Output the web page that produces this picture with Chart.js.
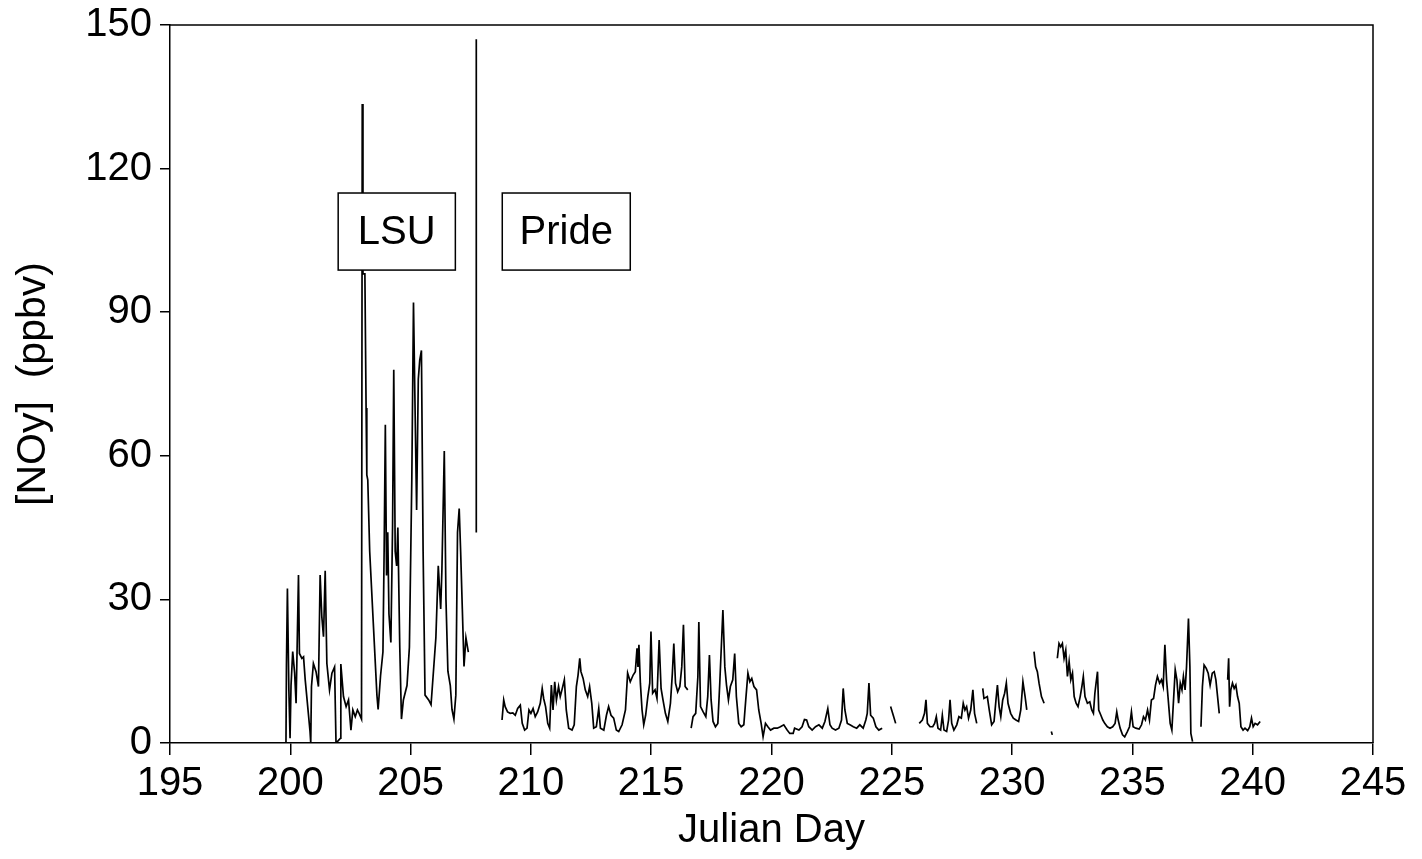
<!DOCTYPE html>
<html>
<head>
<meta charset="utf-8">
<script src="https://cdn.jsdelivr.net/npm/chart.js@4.4.1/dist/chart.umd.min.js"></script>
<style>
  html, body { margin: 0; padding: 0; background: #fff; }
  #wrap { width: 1422px; height: 859px; }
</style>
</head>
<body>
<div id="wrap"><canvas id="noyChart"></canvas></div>
<script>
// axis ticks
const dayTicks = [195, 200, 205, 210, 215, 220, 225, 230, 235, 240, 245];
const noyTicks = [0, 30, 60, 90, 120, 150];

// LSU record (Julian day, NOy ppbv)
const lsuDay = [199.82, 199.84, 199.88, 199.94, 199.99, 200.03, 200.10, 200.18, 200.24, 200.34,
  200.38, 200.48, 200.55, 200.62, 200.75, 200.82, 200.85, 200.88, 200.96, 201.07,
  201.17, 201.24, 201.31, 201.38, 201.45, 201.52, 201.63, 201.73, 201.84, 201.90,
  201.92, 202.09, 202.10, 202.21, 202.32, 202.42, 202.52, 202.60, 202.70, 202.79,
  202.86, 202.96, 202.99, 203.02, 203.10, 203.15, 203.18, 203.22, 203.30, 203.45,
  203.60, 203.65, 203.75, 203.85, 203.90, 203.95, 204.00, 204.05, 204.10, 204.18,
  204.25, 204.30, 204.36, 204.42, 204.47, 204.55, 204.62, 204.70, 204.85, 204.95,
  205.05, 205.12, 205.17, 205.25, 205.32, 205.38, 205.45, 205.52, 205.60, 205.75,
  205.85, 205.95, 206.05, 206.15, 206.25, 206.30, 206.40, 206.47, 206.55, 206.65,
  206.72, 206.80, 206.88, 206.95, 207.02, 207.08, 207.15, 207.22, 207.30, 207.40];
const lsuNoy = [0, 16.3, 32.3, 11.1, 1, 12, 19.1, 14.6, 8.3, 35.1,
  18.7, 17.7, 18, 13.2, 6.2, 2.4, 0, 11.8, 16.6, 14.9,
  11.8, 35.1, 26.4, 22.2, 36, 16.6, 11.1, 14.6, 15.9, 0,
  0, 1, 16.5, 9.7, 7.6, 9.0, 2.7, 6.9, 5.5, 6.9,
  6.2, 5, 133.5, 98, 98, 70, 56, 55, 40, 25,
  10, 7, 14, 19, 40, 66.5, 35, 44, 27, 21,
  45, 78, 40, 37, 45, 20, 5, 9, 12, 20,
  55, 92, 75, 48.7, 76, 80, 82, 40, 10, 9,
  8, 15, 22, 37, 28, 36, 61, 30, 15, 12,
  7, 5, 10, 44, 49, 40, 28, 16, 22, 19];

// Pride record (null = no data)
const prideDay = [208.80, 208.87, 208.93, 209.03, 209.14, 209.25, 209.35, 209.45, 209.56, 209.64,
  209.74, 209.84, 209.92, 210.00, 210.09, 210.18, 210.28, 210.39, 210.47, 210.53,
  210.61, 210.70, 210.78, 210.85, 210.92, 210.99, 211.06, 211.15, 211.22, 211.29,
  211.39, 211.47, 211.57, 211.71, 211.80, 211.89, 211.96, 212.03, 212.08, 212.17,
  212.26, 212.36, 212.44, 212.53, 212.61, 212.72, 212.82, 212.89, 213.03, 213.14,
  213.23, 213.33, 213.44, 213.55, 213.65, 213.79, 213.93, 214.02, 214.13, 214.25,
  214.34, 214.41, 214.45, 214.49, 214.55, 214.62, 214.69, 214.77, 214.86, 214.94,
  214.99, 215.06, 215.16, 215.24, 215.33, 215.41, 215.49, 215.59, 215.69, 215.80,
  215.88, 215.94, 216.01, 216.10, 216.19, 216.27, 216.34, 216.41, 216.52, 216.59,
  216.66, 216.74, 216.85, 216.94, 216.98, 217.05, 217.16, 217.27, 217.35, 217.42,
  217.49, 217.57, 217.67, 217.77, 217.85, 217.98, 218.06, 218.13, 218.21, 218.29,
  218.39, 218.47, 218.54, 218.64, 218.74, 218.85, 218.93, 219.02, 219.10, 219.18,
  219.27, 219.38, 219.47, 219.57, 219.65, 219.75, 219.85, 219.96, 220.10, 220.24,
  220.37, 220.51, 220.65, 220.76, 220.90, 220.96, 221.14, 221.27, 221.37, 221.46,
  221.55, 221.69, 221.83, 221.97, 222.11, 222.22, 222.34, 222.43, 222.52, 222.66,
  222.80, 222.91, 222.98, 223.05, 223.15, 223.26, 223.40, 223.54, 223.67, 223.81,
  223.92, 223.98, 224.05, 224.12, 224.23, 224.34, 224.46, 224.60, 224.80, 224.95,
  225.06, 225.16, 225.60, 226.14, 226.27, 226.36, 226.42, 226.48, 226.59, 226.70,
  226.78, 226.85, 226.92, 227.03, 227.10, 227.17, 227.28, 227.36, 227.42, 227.49,
  227.58, 227.70, 227.79, 227.89, 227.97, 228.04, 228.11, 228.19, 228.28, 228.37,
  228.44, 228.53, 228.65, 228.78, 228.83, 228.97, 229.05, 229.15, 229.25, 229.33,
  229.39, 229.46, 229.53, 229.61, 229.69, 229.76, 229.83, 229.94, 230.05, 230.16,
  230.27, 230.36, 230.45, 230.54, 230.61, 230.80, 230.91, 230.98, 231.05, 231.12,
  231.22, 231.33, 231.50, 231.63, 231.67, 231.80, 231.88, 231.95, 232.02, 232.09,
  232.16, 232.23, 232.30, 232.37, 232.44, 232.51, 232.58, 232.66, 232.74, 232.83,
  232.90, 232.96, 233.03, 233.13, 233.23, 233.31, 233.38, 233.44, 233.49, 233.55,
  233.60, 233.69, 233.77, 233.85, 233.96, 234.07, 234.18, 234.28, 234.35, 234.41,
  234.49, 234.59, 234.68, 234.79, 234.88, 234.96, 235.03, 235.14, 235.28, 235.38,
  235.46, 235.54, 235.63, 235.71, 235.79, 235.88, 235.96, 236.04, 236.13, 236.21,
  236.28, 236.35, 236.42, 236.49, 236.57, 236.64, 236.71, 236.78, 236.85, 236.92,
  236.99, 237.06, 237.12, 237.19, 237.25, 237.33, 237.39, 237.43, 237.50, 237.70,
  237.85, 237.91, 237.98, 238.07, 238.15, 238.23, 238.32, 238.40, 238.47, 238.54,
  238.61, 238.80, 238.96, 239.00, 239.04, 239.09, 239.16, 239.23, 239.30, 239.37,
  239.44, 239.51, 239.60, 239.68, 239.79, 239.88, 239.95, 240.02, 240.10, 240.20,
  240.31];
const prideNoy = [4.8, 9.0, 7.6, 6.5, 6.2, 6.3, 5.8, 7.2, 7.9, 4.1,
  2.7, 3.1, 6.9, 6.2, 7.2, 5.5, 6.5, 8.3, 11.4, 9.3,
  7.6, 4.1, 3.1, 12.1, 6.9, 12.8, 9.0, 11.8, 9.7, 11.1,
  13.2, 6.9, 3.1, 2.7, 3.8, 11.8, 14.2, 17.7, 14.9, 13.5,
  11.1, 9.7, 11.8, 8.3, 3.1, 3.4, 7.2, 3.1, 2.7, 5.8,
  7.6, 5.8, 5.2, 2.7, 2.4, 3.8, 6.9, 14.6, 12.8, 14.2,
  14.9, 19.8, 15.9, 20.5, 12.5, 6.9, 3.8, 5.8, 9.7, 12.5,
  23.3, 10.4, 11.1, 9.3, 21.5, 11.4, 9.0, 6.2, 4.5, 8.3,
  14.6, 20.8, 12.5, 10.7, 11.8, 15.9, 24.7, 11.8, 11.1, null,
  3.1, 5.5, 6.2, 13.9, 25.3, 7.6, 6.5, 5.5, 9.7, 18.4,
  9.0, 4.5, 3.4, 4.1, 12.5, 27.8, 15.9, 12.1, 9.0, 11.8,
  13.2, 18.7, 9.7, 4.1, 3.4, 3.8, 9.0, 14.6, 12.8, 13.5,
  11.8, 11.1, 6.9, 4.1, 1.3, 4.1, 3.4, 2.7, 3.1, 3.1,
  3.4, 3.8, 2.7, 2.0, 2.0, 3.1, 2.7, 3.4, 4.9, 4.8,
  3.4, 2.7, 3.4, 3.8, 3.1, 4.5, 7.2, 3.8, 3.1, 2.7,
  3.1, 4.8, 11.4, 6.9, 4.1, 3.8, 3.4, 3.1, 3.8, 3.1,
  4.8, 6.2, 12.5, 5.8, 5.2, 3.4, 2.7, 3.1, null, 7.6,
  5.8, 4.1, null, 4.1, 4.8, 6.2, 9.0, 4.1, 3.4, 3.4,
  4.1, 5.5, 3.1, 2.7, 5.8, 2.7, 2.4, 4.8, 9.0, 4.1,
  2.7, 3.8, 5.5, 5.2, 8.3, 6.9, 7.6, 5.2, 6.9, 11.1,
  6.2, 4.1, null, 11.4, 9.3, 9.7, 6.9, 3.8, 4.5, 9.0,
  12.1, 7.6, 5.5, 9.0, 10.4, 12.5, 8.3, 6.2, 5.2, 4.8,
  4.5, 6.9, 12.8, 9.7, 6.9, null, 19.1, 15.9, 14.9, 12.5,
  9.7, 8.3, null, 2.4, 1.7, null, 17.7, 20.8, 20.1, 20.8,
  17.7, 19.4, 13.9, 17.0, 13.2, 14.6, 9.7, 8.3, 7.6, 9.7,
  11.8, 13.9, 9.7, 8.3, 8.6, 6.9, 6.2, 10.4, 12.5, 14.9,
  6.9, 5.8, 4.8, 4.1, 3.4, 3.1, 3.4, 4.1, 6.5, 4.8,
  3.1, 1.7, 1.3, 2.4, 3.4, 6.5, 3.4, 3.1, 2.9, 3.8,
  5.5, 4.8, 6.9, 4.8, 9.0, 9.3, 12.1, 13.9, 12.5, 13.2,
  11.8, 20.5, 13.2, 9.0, 4.1, 2.7, 9.0, 15.3, 13.2, 8.3,
  12.5, 11.1, 13.9, 11.1, 15.9, 26.0, 15.9, 2.0, 0.3, null,
  3.4, 11.8, 16.3, 15.6, 14.6, 12.1, 14.6, 14.9, 13.2, 9.7,
  6.2, null, 13.2, 17.7, 7.6, 11.1, 12.5, 11.4, 12.1, 9.7,
  8.3, 3.4, 2.7, 3.1, 2.6, 3.4, 5.2, 3.4, 4.1, 3.8,
  4.5];

// separator line between the two records
const dividerDay = [207.73, 207.73];
const dividerNoy = [44, 147];

const siteLabels = ['LSU', 'Pride'];

function toPoints(days, vals) {
  return days.map((d, i) => ({ x: d, y: vals[i] }));
}

const FONT = '"Liberation Sans", Arial, Helvetica, sans-serif';

// boxed site labels, placed in data units
const labelBoxes = {
  id: 'labelBoxes',
  afterDatasetsDraw(chart) {
    const { ctx, scales: { x, y } } = chart;
    const boxes = [
      { text: siteLabels[0], x0: 201.99, x1: 206.86, y0: 98.8, y1: 114.9 },
      { text: siteLabels[1], x0: 208.81, x1: 214.13, y0: 98.8, y1: 114.9 }
    ];
    ctx.save();
    boxes.forEach(b => {
      const l = x.getPixelForValue(b.x0), r = x.getPixelForValue(b.x1);
      const t = y.getPixelForValue(b.y1), bt = y.getPixelForValue(b.y0);
      ctx.fillStyle = '#fff';
      ctx.fillRect(l, t, r - l, bt - t);
      ctx.strokeStyle = '#000';
      ctx.lineWidth = 1.5;
      ctx.strokeRect(l, t, r - l, bt - t);
      ctx.fillStyle = '#000';
      ctx.font = '40px ' + FONT;
      ctx.textAlign = 'center';
      ctx.textBaseline = 'middle';
      ctx.fillText(b.text, (l + r) / 2, (t + bt) / 2 + 1);
    });
    ctx.restore();
  }
};

// frame on top and right of plot
const frame = {
  id: 'frame',
  afterDraw(chart) {
    const { ctx, chartArea: a } = chart;
    ctx.save();
    ctx.strokeStyle = '#000';
    ctx.lineWidth = 1.5;
    ctx.beginPath();
    ctx.moveTo(a.left, a.top);
    ctx.lineTo(a.right, a.top);
    ctx.lineTo(a.right, a.bottom);
    ctx.stroke();
    ctx.restore();
  }
};

const lineStyle = {
  borderColor: '#000',
  borderWidth: 1.7,
  pointRadius: 0,
  tension: 0,
  spanGaps: false,
  fill: false
};

new Chart(document.getElementById('noyChart'), {
  type: 'line',
  data: {
    datasets: [
      { label: 'LSU', data: toPoints(lsuDay, lsuNoy), ...lineStyle },
      { label: 'Pride', data: toPoints(prideDay, prideNoy), ...lineStyle },
      { label: 'divider', data: toPoints(dividerDay, dividerNoy), ...lineStyle }
    ]
  },
  options: {
    responsive: true,
    maintainAspectRatio: false,
    animation: false,
    layout: { padding: { left: 0, top: 25, right: 49, bottom: 0 } },
    plugins: { legend: { display: false }, tooltip: { enabled: false } },
    scales: {
      x: {
        type: 'linear',
        min: 195,
        max: 245,
        afterBuildTicks: s => { s.ticks = dayTicks.map(v => ({ value: v })); },
        afterFit: s => { s.height = 116; },
        grid: { drawOnChartArea: false, drawTicks: true, tickLength: 12, color: '#000', lineWidth: 1.5 },
        border: { display: true, color: '#000', width: 1.5 },
        ticks: { color: '#000', font: { family: FONT, size: 40 }, padding: 5, maxRotation: 0 },
        title: { display: true, text: 'Julian Day', color: '#000', font: { family: FONT, size: 40 }, padding: 4 }
      },
      y: {
        min: 0,
        max: 150,
        afterBuildTicks: s => { s.ticks = noyTicks.map(v => ({ value: v })); },
        afterFit: s => { s.width = 170; },
        grid: { drawOnChartArea: false, drawTicks: true, tickLength: 10, color: '#000', lineWidth: 1.5 },
        border: { display: true, color: '#000', width: 1.5 },
        ticks: { color: '#000', font: { family: FONT, size: 40, lineHeight: 0.8 }, padding: 8 },
        title: { display: true, text: '[NOy]  (ppbv)', color: '#000', font: { family: FONT, size: 41 }, padding: 9 }
      }
    }
  },
  plugins: [labelBoxes, frame]
});
</script>
</body>
</html>
